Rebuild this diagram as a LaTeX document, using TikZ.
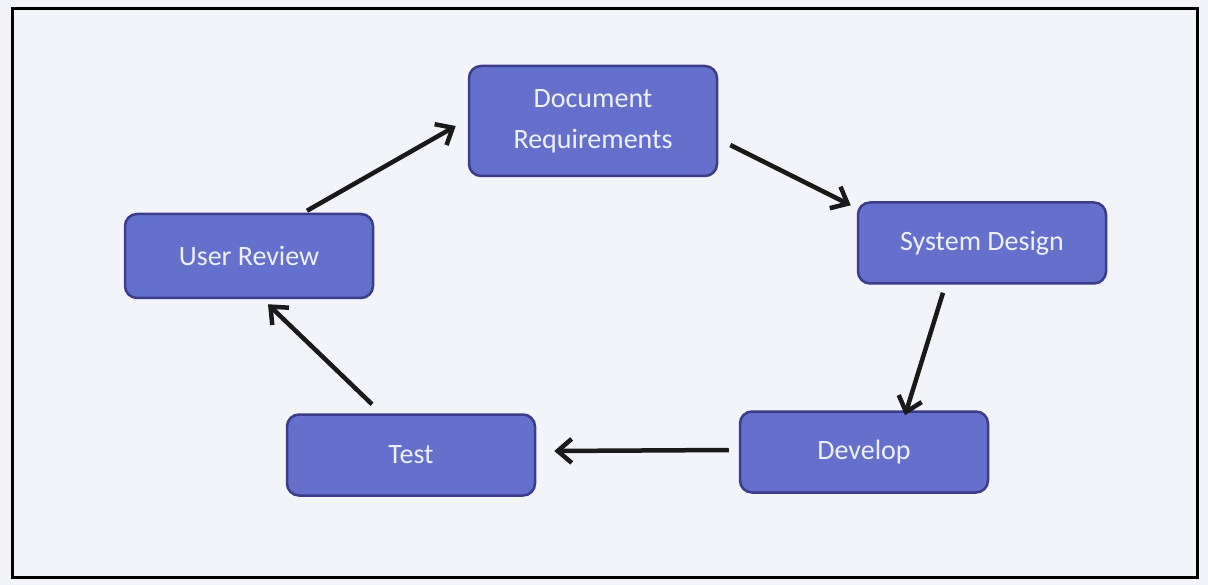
\documentclass[tikz,border=0pt]{standalone}
\usepackage{fontspec}
\setmainfont{Carlito}
\usetikzlibrary{arrows.meta,calc}
\definecolor{bg}{HTML}{F3F3FA}
\definecolor{boxfill}{HTML}{6470CC}
\definecolor{boxline}{HTML}{3B3C8A}
\definecolor{boxtext}{HTML}{EEF0FA}
\definecolor{arr}{HTML}{1A1A1A}
\tikzset{
  stepbox/.style={draw=boxline, line width=2.5pt, fill=boxfill, rounded corners=12pt,
    minimum width=248pt, minimum height=81pt, text=boxtext, align=center,
    font=\fontsize{28}{41}\selectfont, inner sep=0pt},
  flow/.style={draw=arr, line width=4.5pt, -{Straight Barb[length=14pt,width=24pt,line width=4.5pt]}}
}
\begin{document}
\begin{tikzpicture}[x=1pt,y=-1pt]
\fill[bg] (0,0) rectangle (1208,585);
\useasboundingbox (0,0) rectangle (1208,585);
\draw[black, line width=3pt] (12,9) rectangle (1197,577);
\node[stepbox, minimum height=110pt] (dr) at (593,121) {Document\\Requirements};
\node[stepbox] (sd) at (982,243) {System Design};
\node[stepbox] (dv) at (864,452) {Develop};
\node[stepbox] (t) at (411,455) {Test};
\node[stepbox, minimum height=84pt] (ur) at (249,256) {User Review};
\draw[flow] ([xshift=58pt,yshift=2pt]ur.north) -- ([xshift=-12pt,yshift=-5pt]dr.west);
\draw[flow] ([xshift=12pt,yshift=-24pt]dr.east) -- ([xshift=-6pt,yshift=-4pt]sd.north west);
\draw[flow] ([xshift=-39pt,yshift=-8pt]sd.south) -- ([xshift=41pt,yshift=-5pt]dv.north);
\draw[flow] ([xshift=-10pt,yshift=2pt]dv.west) -- ([xshift=18pt,yshift=4pt]t.east);
\draw[flow] ([xshift=-39pt,yshift=9pt]t.north) -- ([xshift=19pt,yshift=-5pt]ur.south);
\end{tikzpicture}
\end{document}
